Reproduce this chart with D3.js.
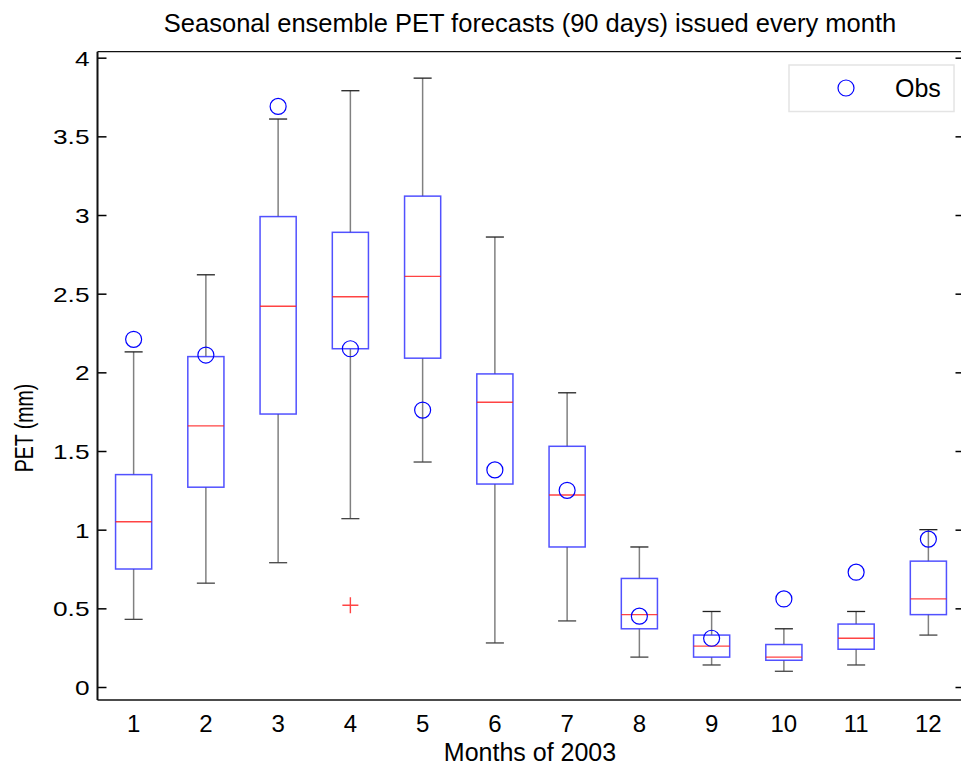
<!DOCTYPE html>
<html>
<head>
<meta charset="utf-8">
<script src="https://cdn.jsdelivr.net/npm/d3@7"></script>
<style>
  body { margin: 0; background: #fff; }
  svg { display: block; font-family: "Liberation Sans", Arial, sans-serif; }
</style>
</head>
<body>
<div id="chart"></div>
<script>
var svgWidth = 961;
var svgHeight = 766;

// Data
var months = [1, 2, 3, 4, 5, 6, 7, 8, 9, 10, 11, 12];
var whiskerHi = [2.13, 2.62, 3.61, 3.79, 3.87, 2.86, 1.87, 0.89, 0.48, 0.37, 0.48, 1.00];
var q3 = [1.35, 2.10, 2.99, 2.89, 3.12, 1.99, 1.53, 0.69, 0.33, 0.27, 0.40, 0.80];
var medians = [1.05, 1.66, 2.42, 2.48, 2.61, 1.81, 1.22, 0.46, 0.26, 0.19, 0.31, 0.56];
var q1 = [0.75, 1.27, 1.735, 2.15, 2.09, 1.29, 0.89, 0.37, 0.19, 0.17, 0.24, 0.46];
var whiskerLo = [0.43, 0.66, 0.79, 1.07, 1.43, 0.28, 0.42, 0.19, 0.14, 0.10, 0.14, 0.33];
var obs = [2.21, 2.11, 3.69, 2.15, 1.76, 1.38, 1.25, 0.45, 0.31, 0.56, 0.73, 0.94];
var outlierMonths = [4];
var outlierValues = [0.52];
var yTicks = [0, 0.5, 1, 1.5, 2, 2.5, 3, 3.5, 4];

var margin = { top: 51.7, right: -3.5, bottom: 66, left: 97.5 };
var width = svgWidth - margin.left - margin.right;
var height = svgHeight - margin.top - margin.bottom;

var svg = d3.select("#chart")
  .append("svg")
  .attr("width", svgWidth)
  .attr("height", svgHeight);

var chartGroup = svg.append("g")
  .attr("transform", `translate(${margin.left}, ${margin.top})`);

// scales
var xScale = d3.scaleLinear().domain([0.5, 12.5]).range([0, width]);
var yScale = d3.scaleLinear().domain([-0.0826, 4.038]).range([height, 0]);

var unit = xScale(1) - xScale(0);
var boxW = 0.5 * unit;
var capW = 0.25 * unit;

var boxes = months.map(function(m, i) {
  return { m: m, hi: whiskerHi[i], q3: q3[i], med: medians[i], q1: q1[i], lo: whiskerLo[i], obs: obs[i] };
});

// left axis with inner ticks
var leftAxis = d3.axisRight(yScale).tickValues(yTicks).tickSize(9).tickFormat(d3.format("~g"));
var leftG = chartGroup.append("g").call(leftAxis);
leftG.select(".domain").remove();
leftG.selectAll("line").attr("stroke", "#000").attr("stroke-width", 1.5);
leftG.selectAll("text")
  .attr("x", 0)
  .attr("dy", "0.36em")
  .attr("text-anchor", "end")
  .attr("transform", "translate(-8,0) scale(1.25,1)")
  .attr("font-size", 21)
  .attr("font-family", "Liberation Sans, Arial, sans-serif")
  .attr("fill", "#000");

// right axis ticks (inner)
var rightG = chartGroup.append("g")
  .attr("transform", `translate(${width}, 0)`)
  .call(d3.axisLeft(yScale).tickValues(yTicks).tickSize(9).tickFormat(""));
rightG.select(".domain").remove();
rightG.selectAll("line").attr("stroke", "#000").attr("stroke-width", 1.5);

// whiskers
var bx = chartGroup.selectAll(".box").data(boxes).enter().append("g").attr("class", "box");

bx.append("line")
  .attr("x1", d => xScale(d.m)).attr("x2", d => xScale(d.m))
  .attr("y1", d => yScale(d.q3)).attr("y2", d => yScale(d.hi))
  .attr("stroke", "#808080").attr("stroke-width", 1.5);
bx.append("line")
  .attr("x1", d => xScale(d.m)).attr("x2", d => xScale(d.m))
  .attr("y1", d => yScale(d.q1)).attr("y2", d => yScale(d.lo))
  .attr("stroke", "#808080").attr("stroke-width", 1.5);

// caps
bx.append("line")
  .attr("x1", d => xScale(d.m) - capW / 2).attr("x2", d => xScale(d.m) + capW / 2)
  .attr("y1", d => yScale(d.hi)).attr("y2", d => yScale(d.hi))
  .attr("stroke", "#222").attr("stroke-width", 1.3);
bx.append("line")
  .attr("x1", d => xScale(d.m) - capW / 2).attr("x2", d => xScale(d.m) + capW / 2)
  .attr("y1", d => yScale(d.lo)).attr("y2", d => yScale(d.lo))
  .attr("stroke", "#444").attr("stroke-width", 1.3);

// boxes
bx.append("rect")
  .attr("x", d => xScale(d.m) - boxW / 2)
  .attr("y", d => yScale(d.q3))
  .attr("width", boxW)
  .attr("height", d => yScale(d.q1) - yScale(d.q3))
  .attr("fill", "none")
  .attr("stroke", "#3333ff")
  .attr("stroke-width", 1.5)
  .attr("stroke-opacity", 0.85);

// medians
bx.append("line")
  .attr("x1", d => xScale(d.m) - boxW / 2).attr("x2", d => xScale(d.m) + boxW / 2)
  .attr("y1", d => yScale(d.med)).attr("y2", d => yScale(d.med))
  .attr("stroke", "#ff2222").attr("stroke-width", 1.4).attr("stroke-opacity", 0.85);

// outliers
outlierMonths.forEach(function(m, i) {
  var cx = xScale(m), cy = yScale(outlierValues[i]);
  chartGroup.append("path")
    .attr("d", `M${cx - 8},${cy}H${cx + 8}M${cx},${cy - 8}V${cy + 8}`)
    .attr("stroke", "#ff4444").attr("stroke-width", 1.4).attr("fill", "none");
});

// observations
chartGroup.selectAll(".obs").data(boxes).enter().append("circle")
  .attr("class", "obs")
  .attr("cx", d => xScale(d.m))
  .attr("cy", d => yScale(d.obs))
  .attr("r", 8)
  .attr("fill", "none")
  .attr("stroke", "#0000ff")
  .attr("stroke-width", 1.2);

// frame
chartGroup.append("line").attr("x1", 0).attr("x2", 0).attr("y1", 0).attr("y2", height)
  .attr("stroke", "#111").attr("stroke-width", 2);
chartGroup.append("line").attr("x1", 0).attr("x2", width).attr("y1", 0).attr("y2", 0)
  .attr("stroke", "#111").attr("stroke-width", 1.3);
chartGroup.append("line").attr("x1", 0).attr("x2", width).attr("y1", height).attr("y2", height)
  .attr("stroke", "#111").attr("stroke-width", 1.6);
chartGroup.append("line").attr("x1", width).attr("x2", width).attr("y1", 0).attr("y2", height)
  .attr("stroke", "#111").attr("stroke-width", 1.3);

// x labels
chartGroup.selectAll(".xlab").data(months).enter().append("text")
  .attr("class", "xlab")
  .attr("x", d => xScale(d))
  .attr("y", height + 32)
  .attr("text-anchor", "middle")
  .attr("font-size", 24)
  .text(d => d);

// legend
var legend = chartGroup.append("g").attr("transform", `translate(${789 - margin.left}, ${65 - margin.top})`);
legend.append("rect").attr("width", 165).attr("height", 46.5)
  .attr("fill", "#fff").attr("stroke", "#e4e4e4").attr("stroke-width", 1.5);
legend.append("circle").attr("cx", 57).attr("cy", 23).attr("r", 8)
  .attr("fill", "none").attr("stroke", "#0000ff").attr("stroke-width", 1.2);
legend.append("text").attr("x", 106).attr("y", 32).attr("font-size", 25).text("Obs");

// title and axis labels
svg.append("text")
  .attr("x", margin.left + width / 2 - 1)
  .attr("y", 31.5)
  .attr("text-anchor", "middle")
  .attr("font-size", 25.5)
  .text("Seasonal ensemble PET forecasts (90 days) issued every month");

svg.append("text")
  .attr("x", margin.left + width / 2 - 1)
  .attr("y", 760.5)
  .attr("text-anchor", "middle")
  .attr("font-size", 25)
  .text("Months of 2003");

svg.append("text")
  .attr("transform", "translate(33, 428) scale(1.3,1) rotate(-90)")
  .attr("text-anchor", "middle")
  .attr("font-size", 19.5)
  .text("PET (mm)");
</script>
</body>
</html>
